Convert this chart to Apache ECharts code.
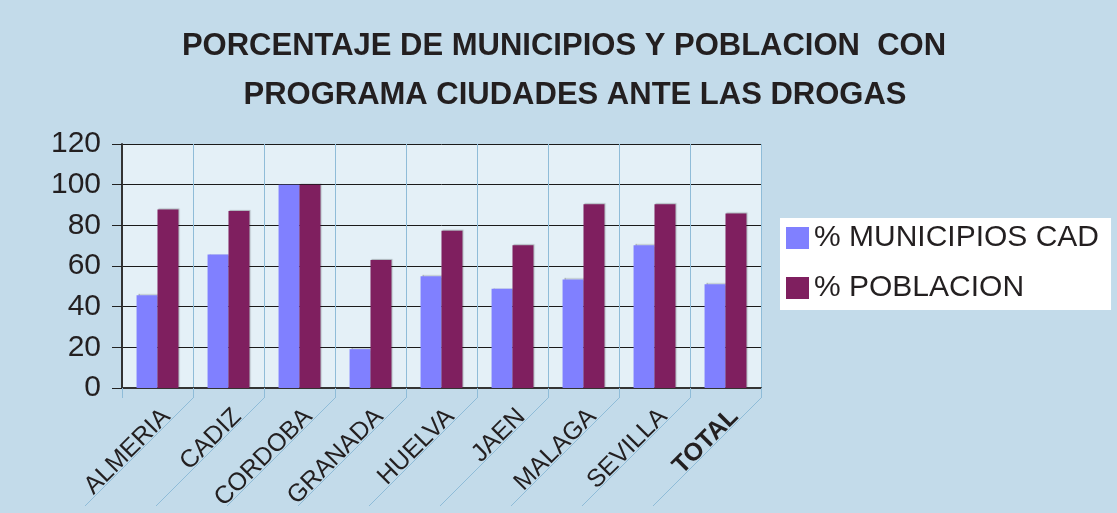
<!DOCTYPE html>
<html>
<head>
<meta charset="utf-8">
<script src="https://cdn.jsdelivr.net/npm/echarts@6/dist/echarts.min.js"></script>
<style>
html,body{margin:0;padding:0;background:#c3dbea;}
#chart{width:1117px;height:513px;}
</style>
</head>
<body>
<div id="chart"></div>
<script>
var titleLines = ['PORCENTAJE DE MUNICIPIOS Y POBLACION  CON', 'PROGRAMA CIUDADES ANTE LAS DROGAS'];
var categories = ['ALMERIA', 'CADIZ', 'CORDOBA', 'GRANADA', 'HUELVA', 'JAEN', 'MALAGA', 'SEVILLA', 'TOTAL'];
var seriesNames = ['% MUNICIPIOS CAD', '% POBLACION'];
var municipios = [45.6, 65.6, 100, 19.1, 54.9, 48.8, 53.4, 70.2, 51.0];
var poblacion = [87.8, 87.0, 100, 63.0, 77.3, 70.2, 90.4, 90.4, 85.8];
var yTicks = [0, 20, 40, 60, 80, 100, 120];

var FONT = "'Liberation Sans', Arial, sans-serif";
var TXT = '#231f20';
var chart = echarts.init(document.getElementById('chart'), null, {renderer: 'canvas'});

var titleGraphics = [
  {type: 'text', style: {text: titleLines[0], x: 564, y: 46, align: 'center', verticalAlign: 'middle', font: 'bold 31px ' + FONT, fill: TXT}},
  {type: 'text', style: {text: titleLines[1], x: 575, y: 95, align: 'center', verticalAlign: 'middle', font: 'bold 31px ' + FONT, fill: TXT}}
];

var option = {
  backgroundColor: '#c3dbea',
  animation: false,
  textStyle: {fontFamily: FONT},
  grid: {left: 122, right: 356, top: 144, bottom: 125, show: true, backgroundColor: '#e4f0f7', borderWidth: 0,
    containLabel: false, outerBoundsMode: 'none'},
  legend: {
    orient: 'vertical', left: 780, top: 218,
    backgroundColor: '#ffffff',
    padding: [5, 12, 7, 6],
    itemWidth: 23, itemHeight: 22, itemGap: 20,
    icon: 'rect',
    textStyle: {fontFamily: FONT, fontSize: 30, color: TXT, lineHeight: 30},
    data: seriesNames
  },
  graphic: titleGraphics,
  xAxis: {
    type: 'category',
    data: categories,
    axisLine: {lineStyle: {color: '#333', width: 2}},
    axisTick: {show: true, length: 10, interval: 0, lineStyle: {color: '#8fbcd8', width: 1}},
    splitLine: {show: true, interval: 0, lineStyle: {color: '#8fbcd8', width: 1}},
    axisLabel: {rotate: 45, interval: 0, fontSize: 25, color: TXT, fontFamily: FONT, margin: 16,
      verticalAlign: 'top',
      formatter: function (v, idx) { return idx === categories.length - 1 ? '{b|' + v + '}' : v; },
      rich: {b: {fontWeight: 'bold', fontSize: 25, fontFamily: FONT, color: TXT}}}
  },
  yAxis: {
    type: 'value', min: 0, max: 120, interval: 20,
    axisLine: {show: true, lineStyle: {color: '#333', width: 2}},
    axisTick: {show: true, length: 10, lineStyle: {color: '#222', width: 1}},
    splitLine: {show: true, lineStyle: {color: '#1a1a1a', width: 1}},
    axisLabel: {fontSize: 30, color: TXT, fontFamily: FONT, margin: 21,
      formatter: function (v) { return yTicks.indexOf(v) >= 0 ? String(v) : ''; }}
  },
  series: [
    {name: seriesNames[0], type: 'bar', data: municipios, barGap: '0%', barCategoryGap: '41%',
      itemStyle: {color: '#8080ff', shadowColor: 'rgba(0,0,0,0.25)', shadowOffsetX: 1, shadowOffsetY: -1, shadowBlur: 1}},
    {name: seriesNames[1], type: 'bar', data: poblacion, barGap: '0%', barCategoryGap: '41%',
      itemStyle: {color: '#7f1f5f', shadowColor: 'rgba(0,0,0,0.25)', shadowOffsetX: 1, shadowOffsetY: -1, shadowBlur: 1}}
  ]
};
chart.setOption(option);

// decorative diagonal floor lines from each category boundary
var diag = [];
for (var i = 1; i <= categories.length; i++) {
  var p0 = chart.convertToPixel({gridIndex: 0}, [i - 1, 0]);
  var p1 = chart.convertToPixel({gridIndex: 0}, [i, 0]);
  var bx = (p0[0] + p1[0]) / 2;
  var by = p0[1] + 10;
  diag.push({type: 'line', silent: true, z: 1,
    shape: {x1: bx, y1: by, x2: bx - 108, y2: by + 108},
    style: {stroke: '#8fbcd8', lineWidth: 1}});
}
chart.setOption({graphic: titleGraphics.concat(diag)});
</script>
</body>
</html>
